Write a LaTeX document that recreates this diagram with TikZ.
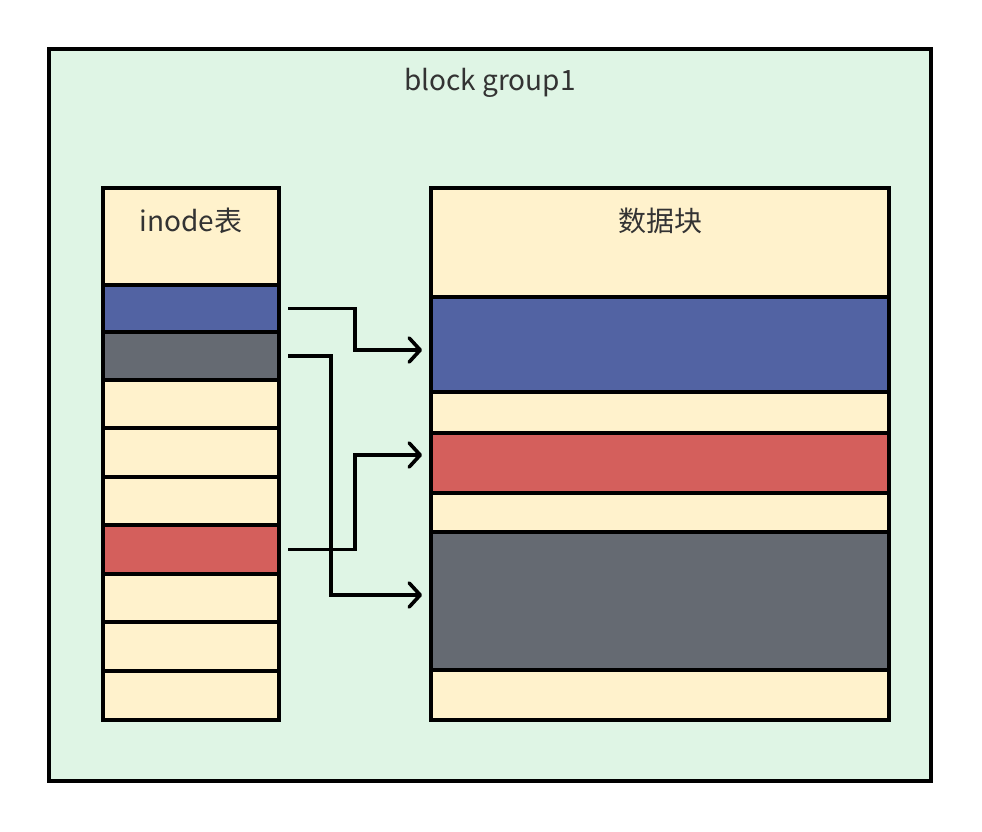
\documentclass[tikz,border=0pt]{standalone}
\usepackage{fontspec}
\setmainfont{Noto Sans CJK SC}
\usetikzlibrary{arrows.meta}
\definecolor{mint}{HTML}{DFF5E5}
\definecolor{cream}{HTML}{FFF2CC}
\definecolor{cblue}{HTML}{5263A3}
\definecolor{cgray}{HTML}{656A72}
\definecolor{cred}{HTML}{D45F5C}
\definecolor{txt}{HTML}{333333}
\tikzset{
  cell/.style={draw=black, line width=3.6pt, anchor=north west, inner sep=0pt, outer sep=0pt},
  lcell/.style={cell, minimum width=176pt},
  rcell/.style={cell, minimum width=458pt},
  lbl/.style={text=txt, font=\fontsize{28pt}{32pt}\selectfont, inner sep=0pt},
  arr/.style={line width=3.6pt, -{Straight Barb[length=11pt,width=24pt,round]}}
}
\begin{document}
\begin{tikzpicture}[x=1pt,y=-1pt]
\useasboundingbox[fill=white] (0,0) rectangle (982,832);
\node[cell, fill=mint, minimum width=882pt, minimum height=732pt] (outer) at (49,49) {};
\node[lbl] (title) at (490,83) {block group1};
% inode column
\node[lcell, fill=cream, minimum height=97pt] (ihead) at (103,188) {};
\node[lcell, fill=cblue, minimum height=47pt] (i1) at (103,285) {};
\node[lcell, fill=cgray, minimum height=48pt] (i2) at (103,332) {};
\node[lcell, fill=cream, minimum height=48pt] (i3) at (103,380) {};
\node[lcell, fill=cream, minimum height=49pt] (i4) at (103,428) {};
\node[lcell, fill=cream, minimum height=48pt] (i5) at (103,477) {};
\node[lcell, fill=cred, minimum height=49pt] (i6) at (103,525) {};
\node[lcell, fill=cream, minimum height=48pt] (i7) at (103,574) {};
\node[lcell, fill=cream, minimum height=49pt] (i8) at (103,622) {};
\node[lcell, fill=cream, minimum height=49pt] (i9) at (103,671) {};
\node[lbl] (ilabel) at (191,221) {inode表};
% data column
\node[rcell, fill=cream, minimum height=109pt] (dhead) at (431,188) {};
\node[rcell, fill=cblue, minimum height=95pt] (d1) at (431,297) {};
\node[rcell, fill=cream, minimum height=41pt] (d2) at (431,392) {};
\node[rcell, fill=cred, minimum height=60pt] (d3) at (431,433) {};
\node[rcell, fill=cream, minimum height=39pt] (d4) at (431,493) {};
\node[rcell, fill=cgray, minimum height=138pt] (d5) at (431,532) {};
\node[rcell, fill=cream, minimum height=50pt] (d6) at (431,670) {};
\node[lbl] (dlabel) at (660,221) {数据块};
% connectors
\draw[arr] ([xshift=9pt]i1.east) -- ([xshift=76pt]i1.east) |- ([xshift=-9pt,yshift=-5.5pt]d1.west);
\draw[arr] ([xshift=9pt]i2.east) -- ([xshift=52pt]i2.east) |- ([xshift=-9pt,yshift=6pt]d5.west);
\draw[arr] ([xshift=9pt]i6.east) -- ([xshift=76pt]i6.east) |- ([xshift=-9pt,yshift=8pt]d3.west);
\end{tikzpicture}
\end{document}
